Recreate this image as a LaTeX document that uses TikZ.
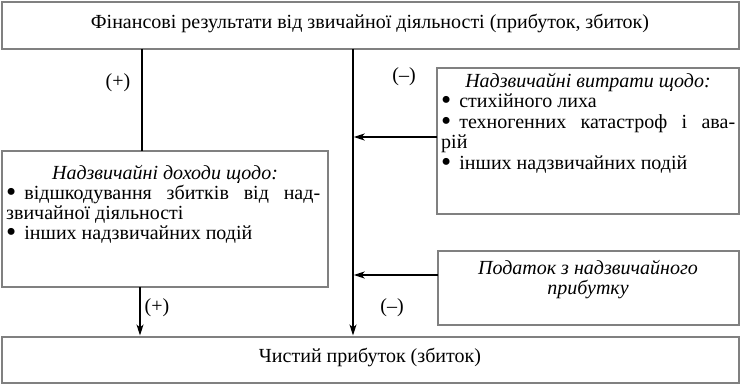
\documentclass[tikz,border=0pt]{standalone}
\usepackage{fontspec}
\setmainfont{Liberation Serif}
\usetikzlibrary{arrows.meta}
\definecolor{boxgray}{RGB}{128,128,128}
\newcommand{\mybul}{\raisebox{-1.6pt}{\scalebox{1.45}{•}}\hspace{8pt}}
\begin{document}
\begin{tikzpicture}[x=1pt,y=-1pt,
  box/.style={draw=boxgray,line width=2.6pt,fill=white,inner sep=0pt,outer sep=0pt,rectangle},
  txt/.style={inner sep=0pt,text height=13pt,text depth=4pt,font=\fontsize{20}{20.5}\selectfont},
  ln/.style={txt,anchor=base west},
  cl/.style={txt,anchor=base},
  conn/.style={line width=1.4pt,draw=black},
  arr/.style={conn,-{Stealth[length=11pt,width=7pt,inset=3pt]}}]
\useasboundingbox (0,0) rectangle (741,385);
% boxes
\node[box,minimum width=737pt,minimum height=47pt] (top) at (370.5,25.5) {};
\node[box,minimum width=326pt,minimum height=136pt] (lbox) at (165,219) {};
\node[box,minimum width=302pt,minimum height=146pt] (rbox) at (588,141) {};
\node[box,minimum width=301pt,minimum height=74pt] (tbox) at (588.5,288) {};
\node[box,minimum width=737pt,minimum height=46pt] (bot) at (370.5,360) {};
% texts
\node[cl] (ttop) at (370,29) {Фінансові результати від звичайної діяльності (прибуток, збиток)};
\node[cl] (tbot) at (370,362) {Чистий прибуток (збиток)};
\node[cl] (r0) at (588,87.5) {\itshape Надзвичайні витрати щодо:};
\node[ln] (r1) at (441,108) {\mybul стихійного лиха};
\node[ln] (r2) at (441,128.5) {\makebox[294pt][s]{\mybul техногенних катастроф і ава-}};
\node[ln] (r3) at (441,149) {рій};
\node[ln] (r4) at (441,169.5) {\mybul інших надзвичайних подій};
\node[cl] (l0) at (165,179.5) {\itshape Надзвичайні доходи щодо:};
\node[ln] (l1) at (6,199.5) {\makebox[314pt][s]{\mybul відшкодування збитків від над-}};
\node[ln] (l2) at (6,219.5) {звичайної діяльності};
\node[ln] (l3) at (6,239.5) {\mybul інших надзвичайних подій};
\node[cl] (p1) at (588,274.5) {\itshape Податок з надзвичайного};
\node[cl] (p2) at (588,294.5) {\itshape прибутку};
% labels
\node[cl] (plus1) at (118,88) {(+)};
\node[cl] (minus1) at (404,82) {(–)};
\node[cl] (plus2) at (157,312) {(+)};
\node[cl] (minus2) at (392,312) {(–)};
% connectors
\coordinate (lx) at (142,0);
\coordinate (lx2) at (140,0);
\coordinate (cx) at (353,0);
\coordinate (h1) at (0,137);
\coordinate (h2) at (0,275);
\draw[conn] (top.south -| lx) -- (lbox.north -| lx);
\draw[arr] (lbox.south -| lx2) -- ([yshift=1.5pt]bot.north -| lx2);
\draw[arr] (top.south -| cx) -- ([yshift=1.5pt]bot.north -| cx);
\draw[arr] (rbox.west |- h1) -- ([xshift=0.7pt]cx |- h1);
\draw[arr] (tbox.west |- h2) -- ([xshift=0.7pt]cx |- h2);
\end{tikzpicture}
\end{document}
